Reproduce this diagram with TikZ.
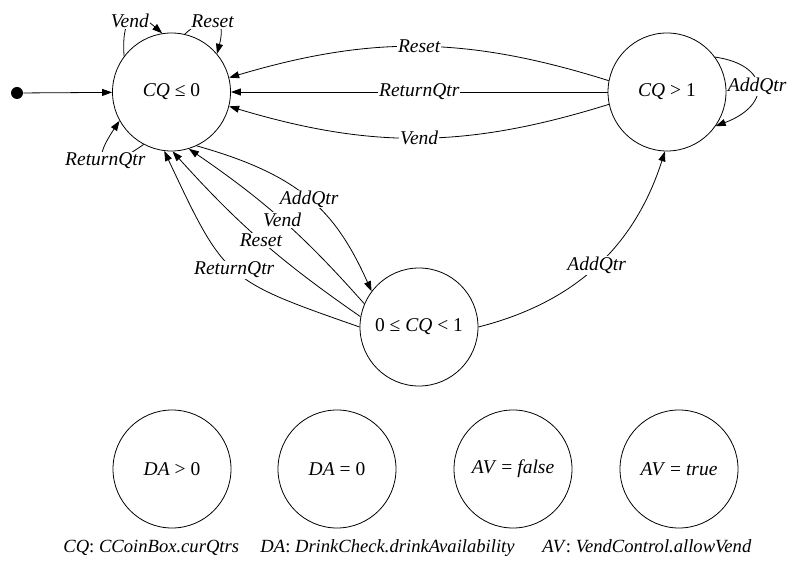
\documentclass[tikz,border=0pt]{standalone}
\usepackage{fontspec}
\setmainfont{Liberation Serif}
\usetikzlibrary{arrows.meta}
\begin{document}
\begin{tikzpicture}[x=1pt,y=1pt,>={Triangle[length=10pt,width=7pt]},line width=.8pt,
    state/.style={draw,circle,minimum size=118pt,inner sep=0pt},
    lab/.style={fill=white,inner sep=1pt,font=\itshape},
    dot/.style={circle,fill,minimum size=12pt,inner sep=0pt},
    key/.style={anchor=base west,inner sep=0pt,font=\fontsize{18.6}{21}\selectfont}]
\fontsize{19.5}{22}\selectfont
\useasboundingbox (0,0) rectangle (789,560);
\node[dot] (start) at (17,467) {};
\node[state] (cqz) at (171.5,468) {\textit{CQ} ≤ 0};
\node[state] (cqg) at (667,468) {\textit{CQ} > 1};
\node[state] (cqm) at (419,233) {0 ≤ \textit{CQ} < 1};
\node[state] (dapos) at (172,91) {\textit{DA} > 0};
\node[state] (dazero) at (337,91) {\textit{DA} = 0};
\node[state] (avf) at (513,91) {\textit{AV} = \textit{false}};
\node[state] (avt) at (679,91) {\textit{AV} = \textit{true}};
\draw[->] (start) -- (cqz);
\draw[->] (cqz.143) .. controls (121,550) and (138,548) .. node[lab,pos=.42]{Vend} (cqz.99);
\draw[->] (cqz.77) .. controls (205,545) and (228,548) .. node[lab]{Reset} (cqz.40);
\draw[->] (cqz.242) .. controls (105,388) and (88,392) .. node[lab]{ReturnQtr} (cqz.209);
\draw[->] (cqg.169) to[bend right=17] node[lab]{Reset} (cqz.14);
\draw[->] (cqg) -- node[lab]{ReturnQtr} (cqz);
\draw[->] (cqg.192) to[bend left=17] node[lab]{Vend} (cqz.346);
\draw[->] (cqg.36) .. controls (770,495) and (772,455) .. node[lab]{AddQtr} (cqg.325);
\draw[->] (cqz.295) .. controls (300,385) and (335,350) .. node[lab]{AddQtr} (cqm.143);
\draw[->] (cqm.157) to[bend right=7] node[lab]{Vend} (cqz.287);
\draw[->] (cqm.170) .. controls (280,299) and (238,336) .. node[lab]{Reset} (cqz.271);
\draw[->] (cqm.180) .. controls (225,280) and (225,280) .. node[lab]{ReturnQtr} (cqz.263);
\draw[->] (cqm.0) to[bend right=29] node[lab]{AddQtr} (cqg.268);
\node[key] (kcq) at (63,8) {\textit{CQ}: \textit{CCoinBox.curQtrs}};
\node[key] (kda) at (260,8) {\textit{DA}: \textit{DrinkCheck.drinkAvailability}};
\node[key] (kav) at (542,8) {\textit{AV}: \textit{VendControl.allowVend}};
\end{tikzpicture}
\end{document}
